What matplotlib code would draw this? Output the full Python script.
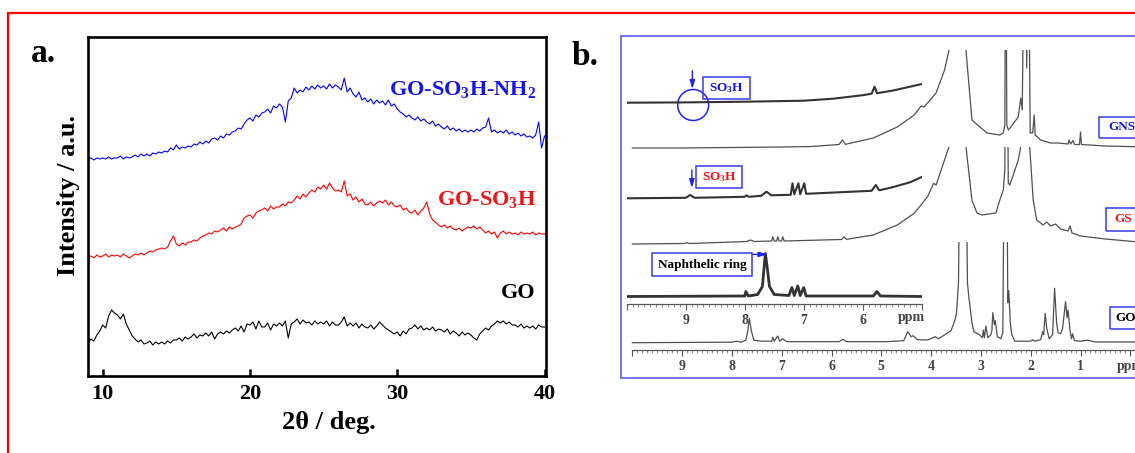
import numpy as np
import matplotlib
matplotlib.use("Agg")
import matplotlib.pyplot as plt
from matplotlib.patches import Rectangle, Ellipse

plt.rcParams['font.family'] = ['Liberation Serif', 'DejaVu Serif']
plt.rcParams['font.weight'] = 'bold'
plt.rcParams['mathtext.fontset'] = 'custom'
plt.rcParams['mathtext.rm'] = 'Liberation Serif:bold'
plt.rcParams['mathtext.it'] = 'Liberation Serif:bold'
plt.rcParams['mathtext.bf'] = 'Liberation Serif:bold'

W, H = 1135, 453

# ---------- panel a: XRD patterns (intensity in a.u.) ----------
two_theta = np.round(np.arange(9.0, 40.01, 0.2), 1)

go_so3h_nh2 = [
    217, 218, 216, 218, 217, 218, 217, 219, 217, 218,
    218, 220, 217, 219, 218, 219, 221, 219, 222, 220,
    222, 220, 223, 222, 224, 223, 225, 224, 228, 226,
    231, 227, 229, 228, 230, 229, 232, 231, 234, 232,
    235, 233, 237, 238, 236, 240, 238, 242, 241, 244,
    245, 248, 247, 252, 256, 258, 255, 261, 259, 263,
    264, 267, 263, 270, 268, 272, 269, 254, 275, 278,
    288, 283, 286, 284, 289, 286, 290, 287, 291, 288,
    290, 287, 292, 288, 291, 289, 286, 298, 284, 288,
    282, 279, 284, 276, 278, 274, 277, 272, 276, 273,
    275, 271, 276, 270, 272, 267, 264, 262, 259, 261,
    258, 256, 259, 255, 257, 254, 252, 255, 250, 252,
    249, 247, 250, 246, 248, 245, 247, 244, 246, 244,
    246, 244, 247, 245, 248, 249, 258, 244, 246, 243,
    245, 243, 246, 242, 244, 241, 243, 240, 242, 239,
    240, 238, 241, 254, 228, 240]

go_so3h = [
    119, 120, 118, 121, 119, 120, 122, 119, 121, 120,
    121, 119, 122, 120, 118, 120, 122, 121, 123, 121,
    123, 125, 124, 126, 127, 128, 127, 129, 135, 140,
    132, 130, 133, 131, 134, 134, 136, 135, 138, 140,
    141, 143, 142, 145, 144, 146, 148, 145, 149, 147,
    149, 150, 152, 158, 160, 161, 158, 163, 165, 166,
    168, 165, 170, 167, 169, 169, 172, 170, 174, 173,
    176, 180, 177, 182, 179, 183, 186, 184, 189, 187,
    191, 187, 193, 188, 185, 186, 184, 195, 180, 182,
    176, 179, 174, 177, 172, 171, 174, 170, 173, 175,
    173, 176, 171, 174, 170, 169, 171, 166, 168, 164,
    163, 166, 161, 165, 168, 174, 162, 156, 154, 151,
    149, 151, 148, 150, 147, 146, 148, 145, 147, 149,
    148, 150, 147, 149, 146, 143, 145, 142, 144, 138,
    143, 145, 142, 144, 142, 143, 141, 144, 142, 143,
    142, 144, 141, 143, 142, 142]

go = [
    33, 37, 35, 41, 45, 51, 48, 60, 66, 63,
    61, 57, 62, 52, 46, 40, 37, 34, 36, 32,
    33, 35, 31, 34, 32, 34, 32, 35, 33, 36,
    36, 38, 35, 39, 37, 39, 42, 38, 41, 40,
    43, 40, 44, 37, 42, 44, 42, 45, 43, 46,
    48, 45, 50, 44, 52, 51, 54, 47, 55, 49,
    49, 53, 46, 52, 50, 53, 50, 55, 38, 52,
    54, 57, 52, 56, 53, 54, 51, 55, 52, 54,
    52, 55, 50, 54, 51, 51, 54, 59, 50, 53,
    50, 53, 48, 52, 49, 48, 51, 47, 50, 54,
    51, 48, 46, 44, 42, 44, 40, 45, 42, 47,
    48, 51, 47, 50, 46, 48, 46, 49, 45, 47,
    46, 44, 47, 42, 45, 43, 40, 44, 41, 43,
    41, 38, 36, 42, 45, 48, 46, 50, 52, 55,
    53, 55, 52, 54, 51, 51, 49, 52, 48, 50,
    48, 50, 47, 51, 49, 49]

# ---------- panel b: 1H NMR spectra (ppm, intensity above own baseline) ----------
gns_full_ppm = [10.0, 9.0, 8.0, 7.0, 6.4, 5.85, 5.78, 5.72, 5.16, 4.68,
                4.34, 4.2, 4.14, 3.9, 3.73, 3.64, 3.5, 3.4, 3.3, 3.18,
                2.88, 2.62, 2.55, 2.52, 2.5, 2.48, 2.45, 2.4, 2.25, 2.2,
                2.17, 2.12, 2.08, 2.05, 2.01, 1.96, 1.93, 1.91, 1.8, 1.6,
                1.45, 1.25, 1.23, 1.2, 1.15, 1.12, 1.02, 1.0, 0.98, 0.5, -0.1]
gns_full_int = [0, 0, 0.5, 1, 1.5, 3.5, 8, 3.7, 10, 21,
                33, 42, 41, 55, 78, 98, 260, 260, 98, 28,
                15, 13, 15, 23, 260, 23, 18, 21, 31, 50,
                38, 260, 80, 260, 15, 15, 33, 13, 8, 5,
                5, 4, 8, 4, 7.5, 3.5, 3.5, 16, 3.5, 2, 1.3]

gs_full_ppm = [10.0, 8.96, 8.9, 8.84, 7.7, 7.63, 7.55, 7.2, 7.18, 7.15,
               7.1, 7.08, 7.05, 7.0, 6.98, 6.95, 5.8, 5.75, 5.7, 5.16,
               4.68, 4.34, 4.07, 3.95, 3.9, 3.73, 3.64, 3.5, 3.4, 3.3,
               3.18, 3.08, 2.98, 2.7, 2.62, 2.55, 2.52, 2.5, 2.47, 2.45,
               2.42, 2.35, 2.25, 2.2, 2.15, 2.05, 2.02, 1.95, 1.88, 1.75,
               1.68, 1.6, 1.5, 1.4, 1.25, 1.21, 1.17, 1.0, 0.5, -0.1]
gs_full_int = [0, 0.5, 1.3, 0.5, 2.5, 4, 2.5, 3, 7.3, 3,
               3, 7.3, 3, 3, 7.3, 3, 4.5, 7, 4.7, 9,
               19, 30.7, 47.3, 60.7, 59, 84, 97.3, 200, 200, 97.3,
               44, 31, 29, 31, 44, 54, 74, 200, 200, 61,
               59, 69, 84, 97.3, 200, 200, 97.3, 44, 24, 19,
               22, 18, 20, 15, 13, 18, 11, 8, 5, 2.3]

go_full_ppm = [10.0, 8.0, 7.9, 7.82, 7.72, 7.68, 7.65, 7.61, 7.56, 7.4,
               7.2, 7.18, 7.15, 7.08, 7.04, 6.98, 6.9, 5.85, 5.77, 5.7,
               4.9, 4.55, 4.47, 4.4, 4.36, 4.27, 4.07, 3.92, 3.85, 3.73,
               3.6, 3.52, 3.49, 3.45, 3.42, 3.3, 3.27, 3.25, 3.18, 3.14,
               3.04, 2.97, 2.95, 2.93, 2.9, 2.86, 2.8, 2.78, 2.76, 2.73,
               2.71, 2.67, 2.6, 2.56, 2.53, 2.48, 2.46, 2.44, 2.41, 2.38,
               2.32, 2.0, 1.96, 1.92, 1.8, 1.76, 1.74, 1.71, 1.68, 1.63,
               1.56, 1.52, 1.48, 1.45, 1.4, 1.36, 1.3, 1.27, 1.25, 1.21,
               1.18, 1.16, 1.12, 1.0, 0.85, 0.7, -0.1]
go_full_int = [0, 0.5, 1.5, 0.5, 2.5, 12, 24.4, 12, 2.5, 1.5,
               1.5, 5.4, 1.5, 6.7, 1.5, 4, 1, 1, 3.4, 1,
               1, 2, 11, 6, 7, 3, 2.7, 6, 4, 7.7,
               12, 22.7, 29.4, 60, 200, 200, 60, 49.4, 20, 11,
               8.4, 5, 12.7, 5, 16.7, 5, 8, 12, 30, 18,
               22, 6, 4, 10, 200, 200, 40, 52, 20, 8,
               1.5, 1.5, 3, 1.5, 3, 11, 8, 29.4, 15, 4,
               8, 54.4, 20, 10, 9, 14, 41, 25, 32.7, 12,
               4, 9, 2, 1.5, 2.5, 0.7, 0.7]

gns_inset_ppm = [10.0, 9.0, 8.0, 7.0, 6.5, 6.0, 5.85, 5.8, 5.76, 5.5, 5.2, 5.0]
gns_inset_int = [0, 0.3, 1, 2, 4, 7.5, 9, 16, 9.5, 12, 16, 18.7]

gs_inset_ppm = [10.0, 9.0, 8.92, 8.85, 8.0, 7.97, 7.93, 7.72, 7.63, 7.55,
                7.22, 7.19, 7.16, 7.09, 7.06, 6.99, 6.96, 5.85, 5.78, 5.72,
                5.5, 5.2, 5.0]
gs_inset_int = [0, 0.5, 3.3, 0.5, 1.5, 3, 1.5, 2.5, 6.6, 3,
                3.5, 15, 4, 15, 4, 15, 4.5, 7.5, 13.3, 8,
                11, 16, 21.3]

go_inset_ppm = [10.0, 8.0, 7.98, 7.94, 7.78, 7.7, 7.67, 7.65, 7.62, 7.58,
                7.5, 7.25, 7.2, 7.16, 7.1, 7.06, 7.0, 6.96, 5.82, 5.76,
                5.7, 5.0]
go_inset_int = [0, 0.5, 5, 0.5, 2, 10, 30, 43, 30, 10,
                2, 1, 9, 1, 10.5, 1, 9, 0.5, 0.5, 5,
                0.5, 0]


def box(x0, r0, x1, r1):
    return [x0 / W, 1 - r1 / H, (x1 - x0) / W, (r1 - r0) / H]


def fx(x):
    return x / W


def fy(r):
    return 1 - r / H


fig = plt.figure(figsize=(W / 100, H / 100), dpi=100)

# red outer frame
fig.add_artist(Rectangle((8 / W, -0.05), 1.1, (H - 13) / H + 0.05,
                         transform=fig.transFigure, fill=False, ec='red', lw=1.6))

# ---- panel a ----
ax = fig.add_axes(box(88, 37, 546, 376))
ax.plot(two_theta, go_so3h_nh2, color='#0000ff', lw=0.8)
ax.plot(two_theta, go_so3h, color='#ff0000', lw=0.8)
ax.plot(two_theta, go, color='black', lw=0.8)
ax.set_xlim(9.0, 40.1)
ax.set_ylim(0, 339)
ax.set_yticks([])
ax.set_xticks([10, 20, 30, 40])
ax.tick_params(axis='x', direction='in', length=5, width=1.8, pad=6, labelsize=16)
for s in ax.spines.values():
    s.set_linewidth(1.9)

fig.text(fx(329), fy(423), '2θ / deg.', ha='center', va='center', fontsize=19)
fig.text(fx(68), fy(195), 'Intensity / a.u.', rotation=90, ha='center', va='center', fontsize=19)
fig.text(fx(536), fy(95), 'GO-SO$_3$H-NH$_2$', color='#1414f0', fontsize=16, ha='right', va='baseline')
fig.text(fx(536), fy(205), 'GO-SO$_3$H', color='#f01414', fontsize=16, ha='right', va='baseline')
fig.text(fx(536), fy(298), 'GO', color='black', fontsize=16, ha='right', va='baseline')
fig.text(fx(31), fy(62), 'a.', fontsize=24, va='baseline')
fig.text(fx(572), fy(65), 'b.', fontsize=24, va='baseline')

# ---- panel b ----
panel_blue = '#6a6af0'
ax_p = fig.add_axes(box(621.5, 36, 1145, 378))
ax_p.set_xticks([])
ax_p.set_yticks([])
for s in ax_p.spines.values():
    s.set_color(panel_blue)
    s.set_linewidth(1.3)


def px_to_ppm(x):
    return 1 + (1080.5 - x) / 49.8


def scale_axes(a, lo, hi, major, labels):
    a.set_facecolor('none')
    for k in ('top', 'left', 'right'):
        a.spines[k].set_visible(False)
    a.spines['bottom'].set_color('#555555')
    a.spines['bottom'].set_linewidth(0.9)
    a.spines['bottom'].set_bounds(lo, hi)
    a.set_yticks([])
    a.set_xticks(major, labels=labels)
    a.set_xticks(np.round(np.arange(lo, hi + 0.001, 0.1), 1), minor=True)
    a.tick_params(axis='x', which='major', direction='out', length=4, width=0.8,
                  color='#555555', labelsize=10, labelcolor='#444444', pad=3)
    a.tick_params(axis='x', which='minor', direction='out', length=2.2, width=0.6,
                  color='#777777')


ax_f = fig.add_axes(box(621.5, 36, 1135, 350))
ax_f.set_xlim(px_to_ppm(621.5), px_to_ppm(1135))
ax_f.set_ylim(0, 314)
scale_axes(ax_f, 0, 10, list(range(0, 11)),
           ['ppm', '1', '2', '3', '4', '5', '6', '7', '8', '9', ''])
ax_f.spines['bottom'].set_bounds(px_to_ppm(1135), 10)

ax_i = fig.add_axes(box(626.6, 36, 921.8, 304))
ax_i.set_xlim(10, 5)
ax_i.set_ylim(0, 268)
scale_axes(ax_i, 5, 10, [5, 6, 7, 8, 9, 10], ['', '6', '7', '8', '9', ''])

full_traces = [(gns_full_ppm, gns_full_int, 202.0, 300.0),
               (gs_full_ppm, gs_full_int, 106.0, 203.3),
               (go_full_ppm, go_full_int, 7.3, 108.3)]
for ppm, inten, base, top in full_traces:
    line, = ax_f.plot(ppm, np.array(inten) + base, color='#505050', lw=0.9)
    clip = Rectangle((-1, -20), 12, top + 20, transform=ax_f.transData)
    line.set_clip_path(clip)

inset_traces = [(gns_inset_ppm, gns_inset_int, 201.3, 1.5),
                (gs_inset_ppm, gs_inset_int, 105.7, 1.5),
                (go_inset_ppm, go_inset_int, 7.5, 2.0)]
for ppm, inten, base, lw in inset_traces:
    ax_i.plot(ppm, np.array(inten) + base, color='#333333', lw=lw)

fig.text(fx(911), fy(318), 'ppm', ha='center', va='center', fontsize=10, color='#444444')

# label boxes
box_ec = '#3b3bea'
labels_b = [((703.4, 76.7, 749.5, 99.3), (726.5, 88), 'SO$_3$H', '#1414e0', 'center'),
            ((696, 165.7, 741.6, 187.7), (719, 177), 'SO$_3$H', '#f01414', 'center'),
            ((652, 253.3, 752, 276), (702, 265), 'Naphthelic ring', 'black', 'center'),
            ((1099, 116.7, 1145, 138.3), (1108, 127.5), 'GNS', '#1414e0', 'left'),
            ((1106, 208, 1145, 230.7), (1114, 219.4), 'GS', '#f01414', 'left'),
            ((1109.5, 306.7, 1145, 329.3), (1115, 318), 'GO', 'black', 'left')]
for (x0, r0, x1, r1), (tx, tr), txt, col, ha in labels_b:
    fig.add_artist(Rectangle((fx(x0), fy(r1)), (x1 - x0) / W, (r1 - r0) / H,
                             transform=fig.transFigure, fill=False, ec=box_ec, lw=1.1))
    fig.text(fx(tx), fy(tr), txt, color=col, fontsize=9.5, ha=ha, va='center')

arrow_kw = dict(arrowstyle='-|>,head_length=0.5,head_width=0.15', color='#2222ee',
                lw=1.0, shrinkA=0, shrinkB=0)
ax_i.annotate('', xy=(8.886, 215), xytext=(8.886, 233.3), arrowprops=arrow_kw)
ax_i.annotate('', xy=(8.895, 116), xytext=(8.895, 134), arrowprops=arrow_kw)
ax_i.annotate('', xy=(7.615, 49.6), xytext=(7.869, 49.6), arrowprops=arrow_kw)
ax_i.add_patch(Ellipse((8.873, 199), 0.525, 31, fill=False, ec='#2222ee', lw=1.1))

fig.savefig('out.png', dpi=100)
